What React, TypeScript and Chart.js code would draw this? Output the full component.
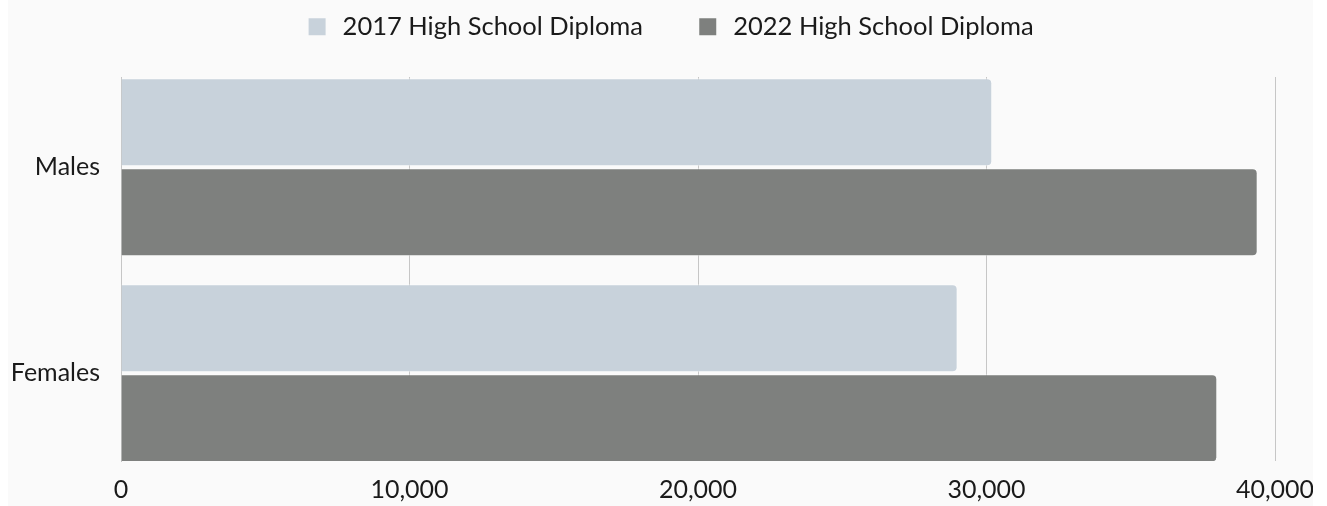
import React, { useEffect, useRef } from 'react';
import { Chart, registerables } from 'chart.js';

Chart.register(...registerables);

const categories = ['Males', 'Females'];
const seriesLabels = ['2017 High School Diploma', '2022 High School Diploma'];
const values2017 = [30200, 29000];
const values2022 = [39400, 38000];
const xTickValues = [0, 10000, 20000, 30000, 40000];

const FONT_FAMILY = 'Lato, "Noto Sans", sans-serif';
const TEXT_COLOR = '#1a1a1a';
const GRID_COLOR = '#c6c6c6';

export default function App() {
  const canvasRef = useRef<HTMLCanvasElement | null>(null);

  useEffect(() => {
    if (!canvasRef.current) return;

    const legendHeightPlugin = {
      id: 'legendHeight',
      beforeInit(chart: any) {
        const legend = chart.legend;
        if (!legend) return;
        const origFit = legend.fit;
        legend.fit = function () {
          origFit.call(this);
          this.height = 115;
        };
      },
    };

    const chart = new Chart(canvasRef.current, {
      type: 'bar',
      data: {
        datasets: [
          {
            label: seriesLabels[0],
            data: values2017.map((v, i) => ({ x: v, y: i })),
            backgroundColor: '#c8d2db',
            borderColor: 'rgba(255,255,255,0.55)',
            borderWidth: 1,
            borderRadius: 5,
            borderSkipped: 'start',
            categoryPercentage: 0.874,
            barPercentage: 0.978,
            pointStyle: 'rect',
          },
          {
            label: seriesLabels[1],
            data: values2022.map((v, i) => ({ x: v, y: i })),
            backgroundColor: '#7e807e',
            borderColor: 'rgba(255,255,255,0.55)',
            borderWidth: 1,
            borderRadius: 5,
            borderSkipped: 'start',
            categoryPercentage: 0.874,
            barPercentage: 0.978,
            pointStyle: 'rect',
          },
        ],
      },
      options: {
        indexAxis: 'y',
        animation: false,
        responsive: false,
        maintainAspectRatio: false,
        devicePixelRatio: 1,
        layout: {
          padding: { top: -38, right: -17, bottom: 1, left: 0 },
        },
        plugins: {
          legend: {
            display: true,
            position: 'top',
            labels: {
              usePointStyle: true,
              pointStyle: 'rect',
              boxWidth: 26,
              boxHeight: 17,
              padding: 52,
              color: TEXT_COLOR,
              font: { family: FONT_FAMILY, size: 25.5 },
              generateLabels: (chart: any) => {
                const items = Chart.defaults.plugins.legend.labels.generateLabels(chart);
                return items.map((it: any) => ({ ...it, lineWidth: 0, strokeStyle: 'transparent' }));
              },
            },
          },
          tooltip: { enabled: false },
        },
        scales: {
          x: {
            type: 'linear',
            min: 0,
            max: 40000,
            afterBuildTicks: (axis: any) => {
              axis.ticks = xTickValues.map((v) => ({ value: v }));
            },
            afterFit: (axis: any) => {
              axis.height = 44;
              axis.paddingRight = 38;
            },
            grid: {
              color: GRID_COLOR,
              lineWidth: 1,
              drawTicks: false,
            },
            border: { display: false },
            ticks: {
              padding: 14,
              color: TEXT_COLOR,
              font: { family: FONT_FAMILY, size: 25 },
              maxRotation: 0,
              callback: (v: any) => Number(v).toLocaleString('en-US'),
            },
          },
          y: {
            type: 'linear',
            reverse: true,
            offset: false,
            min: -0.438,
            max: 1.426,
            afterBuildTicks: (axis: any) => {
              axis.ticks = categories.map((_, i) => ({ value: i }));
            },
            afterFit: (axis: any) => {
              axis.width = 113;
            },
            grid: { display: false, drawTicks: false },
            border: { display: true, color: GRID_COLOR, width: 1 },
            ticks: {
              padding: 21,
              color: TEXT_COLOR,
              font: { family: FONT_FAMILY, size: 25 },
              callback: (v: any) => categories[Number(v)] ?? '',
            },
          },
        },
      },
      plugins: [legendHeightPlugin],
    } as any);

    return () => {
      chart.destroy();
    };
  }, []);

  return (
    <div
      style={{
        position: 'absolute',
        left: 8,
        top: 0,
        width: 1305,
        height: 506,
        background: '#fafafa',
      }}
    >
      <canvas ref={canvasRef} width={1305} height={506} style={{ display: 'block' }} />
    </div>
  );
}
